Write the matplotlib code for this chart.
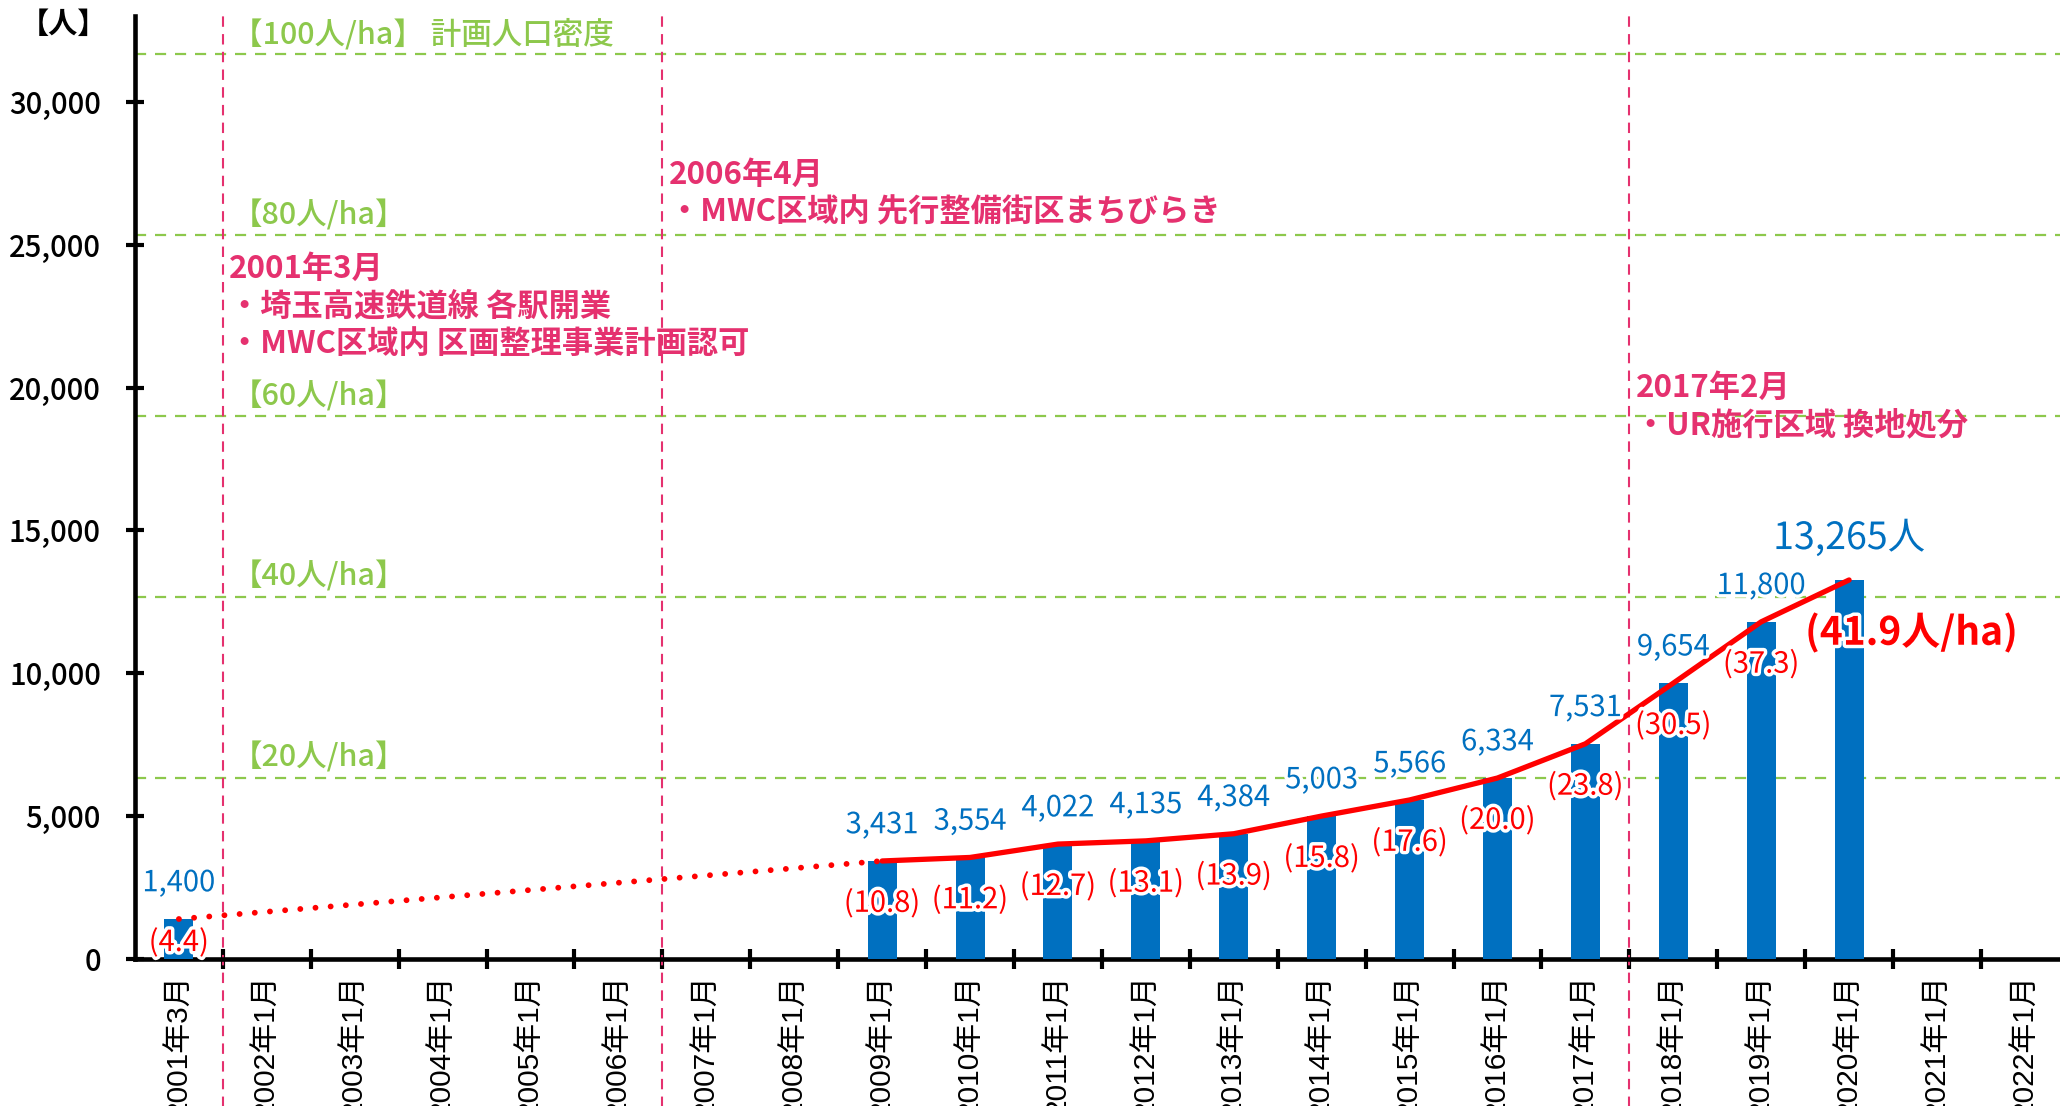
import matplotlib
matplotlib.use('Agg')
import matplotlib.pyplot as plt
import matplotlib.patheffects as pe
from matplotlib.ticker import FuncFormatter

plt.rcParams['font.family'] = ['Noto Sans CJK JP', 'DejaVu Sans']

# ---- data ----
categories = ['2001年3月', '2002年1月', '2003年1月', '2004年1月', '2005年1月',
              '2006年1月', '2007年1月', '2008年1月', '2009年1月', '2010年1月',
              '2011年1月', '2012年1月', '2013年1月', '2014年1月', '2015年1月',
              '2016年1月', '2017年1月', '2018年1月', '2019年1月', '2020年1月',
              '2021年1月', '2022年1月']
population = [1400, None, None, None, None, None, None, None, 3431, 3554,
              4022, 4135, 4384, 5003, 5566, 6334, 7531, 9654, 11800, 13265,
              None, None]
density = [4.4, None, None, None, None, None, None, None, 10.8, 11.2,
           12.7, 13.1, 13.9, 15.8, 17.6, 20.0, 23.8, 30.5, 37.3, 41.9,
           None, None]
area_ha = 316.6
density_levels = [20, 40, 60, 80, 100]
density_names = ['【20人/ha】', '【40人/ha】', '【60人/ha】', '【80人/ha】',
                 '【100人/ha】 計画人口密度']
event_x = [0.5, 5.5, 16.5]
event_texts = ['2001年3月\n・埼玉高速鉄道線 各駅開業\n・MWC区域内 区画整理事業計画認可',
               '2006年4月\n・MWC区域内 先行整備街区まちびらき',
               '2017年2月\n・UR施行区域 換地処分']

blue = '#0070C0'
red = '#FF0000'
pink = '#E5316F'
green = '#8DC84C'

fig = plt.figure(figsize=(20.6, 11.06), dpi=100)
ax = fig.add_axes([0.0655, 0.1329, 0.9388, 0.8526])

xs = [i for i, v in enumerate(population) if v is not None]
ys = [population[i] for i in xs]

ax.bar(xs, ys, width=0.33, color=blue, zorder=3)

# red line: dotted over the gap, solid afterwards
ax.plot(xs[:2], ys[:2], color=red, lw=4.2, linestyle=(0, (0.01, 2.6)),
        dash_capstyle='round', zorder=4)
ax.plot(xs[1:], ys[1:], color=red, lw=3.8, solid_capstyle='round',
        solid_joinstyle='round', zorder=4)

# density guide lines
for lev, name in zip(density_levels, density_names):
    yv = lev * area_ha
    ax.axhline(yv, color=green, lw=1.6, linestyle=(0, (5, 4)), zorder=1)
    ax.annotate(name, (0.6, yv), xytext=(0, 3), textcoords='offset points',
                ha='left', va='bottom', fontsize=22, color=green, fontweight='medium')

# event lines and notes
event_top = [24700, 28000, 20550]
for ex, txt, ty in zip(event_x, event_texts, event_top):
    ax.axvline(ex, ymin=-0.25, ymax=1, color=pink, lw=1.5,
               linestyle=(0, (5, 3.5)), clip_on=False, zorder=2)
    ax.text(ex + 0.07, ty, txt, ha='left', va='top', fontsize=22.5,
            color=pink, fontweight='bold', linespacing=1.22, zorder=5)

halo = [pe.withStroke(linewidth=5, foreground='white')]
for i in xs[:-1]:
    v = population[i]
    ax.text(i, v + 1250, f'{v:,}', ha='center', va='center', fontsize=21,
            color=blue, path_effects=halo, zorder=6)
    ax.text(i, max(v - 1500, 560), f'({density[i]:.1f})', ha='center',
            va='center', fontsize=21, color=red, path_effects=halo, zorder=6)

last = xs[-1]
ax.text(last, population[last] + 1450, f'{population[last]:,}人', ha='center',
        va='center', fontsize=27, color=blue, path_effects=halo, zorder=6)
ax.text(last - 0.5, population[last] - 1850, f'({density[last]:.1f}人/ha)',
        ha='left', va='center', fontsize=28, color=red, fontweight='bold',
        path_effects=halo, zorder=6)

# axes styling
ax.set_xlim(-0.5, len(categories) - 0.5)
ax.set_ylim(0, 33000)
for s in ['top', 'right']:
    ax.spines[s].set_visible(False)
for s in ['left', 'bottom']:
    ax.spines[s].set_linewidth(3.3)
    ax.spines[s].set_color('black')

ax.set_yticks(range(0, 30001, 5000))
ax.yaxis.set_major_formatter(FuncFormatter(lambda v, p: f'{int(v):,}'))
ax.tick_params(axis='y', direction='inout', length=13, width=3, pad=18,
               labelsize=21)
for lab in ax.get_yticklabels():
    lab.set_fontweight('medium')

ax.set_xticks(range(len(categories)))
ax.set_xticklabels(categories, rotation=90, va='top', ha='center',
                   family=['Liberation Sans', 'Noto Sans CJK JP'], fontsize=21.5)
ax.tick_params(axis='x', which='major', length=0, pad=11)
ax.set_xticks([i + 0.5 for i in range(len(categories) - 1)], minor=True)
ax.tick_params(axis='x', which='minor', direction='inout', length=15, width=3)

fig.text(0.031, 0.978, '【人】', ha='center', va='center', fontsize=21,
         fontweight='bold')

fig.savefig('out.png', dpi=100)
